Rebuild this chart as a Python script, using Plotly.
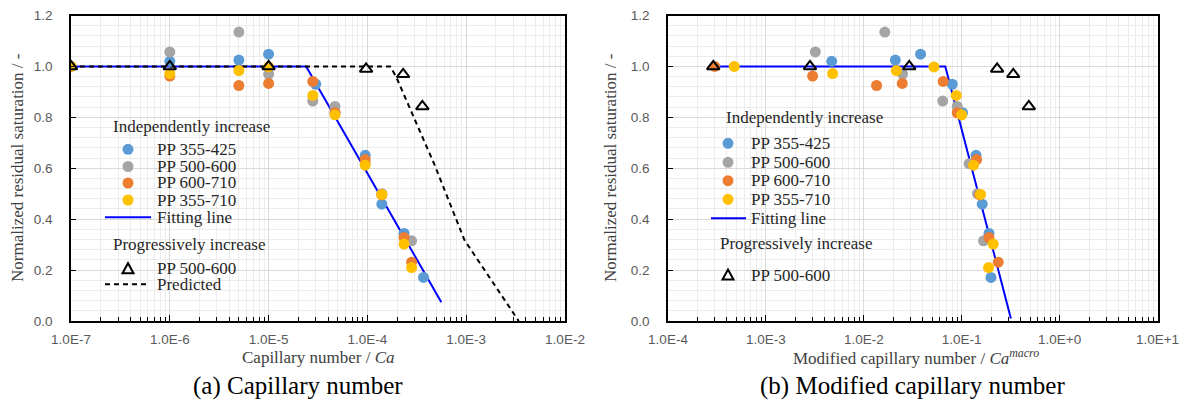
import plotly.graph_objects as go

W, H = 1185, 410

# ---------------- data: panel (a) Capillary number ----------------
ca_blue = [1e-6, 5e-6, 1e-5, 3e-5, 4.7e-5, 9.5e-5, 1.4e-4, 2.35e-4, 3.7e-4]
sr_blue = [1.02, 1.025, 1.048, 0.93, 0.818, 0.651, 0.459, 0.344, 0.171]
ca_grey = [1e-6, 5e-6, 1e-5, 2.8e-5, 4.7e-5, 9.5e-5, 1.4e-4, 2.8e-4]
sr_grey = [1.057, 1.135, 0.97, 0.864, 0.843, 0.618, 0.50, 0.315]
ca_orange = [1e-7, 1e-6, 5e-6, 1e-5, 2.8e-5, 4.7e-5, 9.5e-5, 1.4e-4, 2.35e-4, 2.8e-4]
sr_orange = [1.0, 0.962, 0.925, 0.933, 0.941, 0.818, 0.634, 0.495, 0.328, 0.231]
ca_yellow = [1e-7, 1e-6, 5e-6, 1e-5, 2.8e-5, 4.7e-5, 9.5e-5, 1.4e-4, 2.35e-4, 2.8e-4]
sr_yellow = [1.0, 0.972, 0.984, 0.998, 0.886, 0.81, 0.612, 0.497, 0.302, 0.21]
ca_fit = [1e-7, 2.4e-5, 5.6e-4]
sr_fit = [1.0, 1.0, 0.074]
ca_prog = [1e-7, 1e-6, 1e-5, 9.7e-5, 2.3e-4, 3.6e-4]
sr_prog = [1.0, 1.0, 1.0, 0.99, 0.969, 0.843]
ca_pred = [1e-7, 1.7e-4, 1.95e-4, 4.8e-4, 9.6e-4, 3.4e-3]
sr_pred = [1.0, 1.0, 0.96, 0.612, 0.318, 0.0]

# ---------------- data: panel (b) Modified capillary number ----------------
cam_blue = [4.7e-3, 2.1e-2, 3.8e-2, 8.0e-2, 0.102, 0.14, 0.162, 0.19, 0.199]
cam_grey = [3.2e-3, 1.64e-2, 2.49e-2, 6.4e-2, 9.0e-2, 0.119, 0.145, 0.167]
cam_orange = [3.0e-4, 3.0e-3, 1.35e-2, 2.47e-2, 6.47e-2, 9.0e-2, 0.142, 0.153, 0.19, 0.236]
cam_yellow = [4.75e-4, 4.8e-3, 2.15e-2, 5.2e-2, 8.8e-2, 0.1, 0.132, 0.156, 0.21, 0.188]
cam_fit = [3.0e-4, 6.8e-2, 0.318]
sr_fit_b = [1.0, 1.0, 0.01]
cam_prog = [2.9e-4, 2.82e-3, 2.91e-2, 0.23, 0.336, 0.485]

# ---------------- labels ----------------
series_names = ["PP 355-425", "PP 500-600", "PP 600-710", "PP 355-710"]
series_colors = ["#5B9BD5", "#A5A5A5", "#ED7D31", "#FFC000"]
fit_name = "Fitting line"
prog_name = "PP 500-600"
pred_name = "Predicted"
group1_title = "Independently increase"
group2_title = "Progressively increase"
ytitle = "Normalized residual saturation / -"
xtitle_a = "Capillary number / <i>Ca</i>"
xtitle_b = "Modified capillary number / <i>Ca</i><sup><i>macro</i></sup>"
caption_a = "(a) Capillary number"
caption_b = "(b) Modified capillary number"
xt_a_vals = [1e-7, 1e-6, 1e-5, 1e-4, 1e-3, 1e-2]
xt_a_text = ["1.0E-7", "1.0E-6", "1.0E-5", "1.0E-4", "1.0E-3", "1.0E-2"]
xt_b_vals = [1e-4, 1e-3, 1e-2, 1e-1, 1e0, 1e1]
xt_b_text = ["1.0E-4", "1.0E-3", "1.0E-2", "1.0E-1", "1.0E+0", "1.0E+1"]

SERIF = "Liberation Serif, Times New Roman, serif"
SANS = "Liberation Sans, Arial, sans-serif"

fig = go.Figure()

def add_panel(xs_list, ys_list, xfit, yfit, xprog, yprog, xpred, ypred, xa, ya):
    fig.add_trace(go.Scatter(x=xfit, y=yfit, mode="lines", line=dict(color="#0000FF", width=2),
                             xaxis=xa, yaxis=ya, showlegend=False))
    if xpred is not None:
        fig.add_trace(go.Scatter(x=xpred, y=ypred, mode="lines",
                                 line=dict(color="black", width=2, dash="5px,4px"),
                                 xaxis=xa, yaxis=ya, showlegend=False))
    for xs, ys, c in zip(xs_list, ys_list, series_colors):
        fig.add_trace(go.Scatter(x=xs, y=ys, mode="markers",
                                 marker=dict(color=c, size=11, line=dict(width=0)),
                                 xaxis=xa, yaxis=ya, showlegend=False))
    fig.add_trace(go.Scatter(x=xprog, y=yprog, mode="markers",
                             marker=dict(symbol="triangle-up-open", color="black", size=11,
                                         line=dict(width=2, color="black")),
                             xaxis=xa, yaxis=ya, showlegend=False))

add_panel([ca_blue, ca_grey, ca_orange, ca_yellow], [sr_blue, sr_grey, sr_orange, sr_yellow],
          ca_fit, sr_fit, ca_prog, sr_prog, ca_pred, sr_pred, "x", "y")
add_panel([cam_blue, cam_grey, cam_orange, cam_yellow], [sr_blue, sr_grey, sr_orange, sr_yellow],
          cam_fit, sr_fit_b, cam_prog, sr_prog, None, None, "x2", "y2")


def minor_vals(lo, hi):
    out = []
    for k in range(lo, hi):
        for m in range(2, 10):
            out.append(m * 10.0 ** k)
    return out

def xaxis_cfg(dom, rng, tv, tt, lo, hi, anchor):
    return dict(type="log", domain=dom, range=rng, anchor=anchor, automargin=False,
                tickmode="array", tickvals=tv, ticktext=tt,
                showline=True, linecolor="black", linewidth=1.5, mirror=True,
                ticks="inside", ticklen=6, tickcolor="black", tickwidth=1,
                showgrid=True, gridcolor="#d9d9d9", gridwidth=1, zeroline=False,
                tickfont=dict(family=SANS, size=13.5, color="#595959"),
                ticklabelstandoff=5,
                minor=dict(tickmode="array", tickvals=minor_vals(lo, hi), ticks="inside",
                           ticklen=4, tickcolor="black", showgrid=True,
                           gridcolor="#ececec", gridwidth=1))

def yaxis_cfg(anchor):
    return dict(domain=[1 - 321 / H, 1 - 15.5 / H], range=[0, 1.2], dtick=0.2, tick0=0,
                tickformat=".1f", anchor=anchor, automargin=False,
                showline=True, linecolor="black", linewidth=1.5, mirror=True,
                ticks="inside", ticklen=5, tickcolor="black",
                showgrid=True, gridcolor="#d9d9d9", gridwidth=1, zeroline=False,
                tickfont=dict(family=SANS, size=13.5, color="#595959"),
                ticklabelstandoff=14,
                minor=dict(dtick=0.04, tick0=0, showgrid=True, gridcolor="#ececec", ticks=""))

fig.update_layout(
    width=W, height=H, autosize=False,
    margin=dict(l=0, r=0, t=0, b=0, autoexpand=False),
    paper_bgcolor="white", plot_bgcolor="white",
    showlegend=False,
    xaxis=xaxis_cfg([71 / W, 565 / W], [-7, -2], xt_a_vals, xt_a_text, -7, -2, "y"),
    yaxis=yaxis_cfg("x"),
    xaxis2=xaxis_cfg([668 / W, 1157.5 / W], [-4, 1], xt_b_vals, xt_b_text, -4, 1, "y2"),
    yaxis2=yaxis_cfg("x2"),
)

def P(xp, yp):
    return xp / W, 1 - yp / H

ann = []
shapes = []

def text(xp, yp, s, size=17, color="#262626", xanchor="left", angle=0, family=SERIF):
    x, y = P(xp, yp)
    ann.append(dict(x=x, y=y, xref="paper", yref="paper", text=s, showarrow=False,
                    xanchor=xanchor, yanchor="middle", textangle=angle,
                    font=dict(family=family, size=size, color=color)))

def circle(xp, yp, color, r=5.5):
    x, y = P(xp, yp)
    shapes.append(dict(type="circle", xref="paper", yref="paper", xsizemode="pixel",
                       ysizemode="pixel", xanchor=x, yanchor=y, x0=-r, x1=r, y0=-r, y1=r,
                       fillcolor=color, line=dict(width=0)))

def tri(xp, yp):
    x, y = P(xp, yp)
    shapes.append(dict(type="path", xref="paper", yref="paper", xsizemode="pixel",
                       ysizemode="pixel", xanchor=x, yanchor=y,
                       path="M -5.5,-4.5 L 5.5,-4.5 L 0,5.5 Z",
                       fillcolor="rgba(0,0,0,0)", line=dict(color="black", width=2)))

def hline(x0p, x1p, yp, color, dash="solid"):
    x0, y = P(x0p, yp)
    x1, _ = P(x1p, yp)
    shapes.append(dict(type="line", xref="paper", yref="paper", x0=x0, x1=x1, y0=y, y1=y,
                       line=dict(color=color, width=2, dash=dash)))

# legend (a)
text(111, 126, group1_title)
for i, (nm, c) in enumerate(zip(series_names, series_colors)):
    yy = [149.3, 166.5, 183, 200][i]
    circle(128, yy, c)
    text(155, yy, nm)
hline(105, 151, 217.3, "#0000FF")
text(155, 217.3, fit_name)
text(111, 244, group2_title)
tri(128, 268.7)
text(155, 268.7, prog_name)
hline(105, 148, 284.3, "black", dash="5px,4px")
text(155, 284.3, pred_name)

# legend (b)
text(724, 117.3, group1_title)
for i, (nm, c) in enumerate(zip(series_names, series_colors)):
    yy = [143.3, 162.3, 180.7, 199.3][i]
    circle(728, yy, c)
    text(749, yy, nm)
hline(711, 746, 218.3, "#0000FF")
text(749, 218.3, fit_name)
text(718, 243.3, group2_title)
tri(728, 275)
text(749, 275, prog_name)

# axis titles
text(18, 168, ytitle, color="#404040", xanchor="center", angle=-90)
text(611, 168, ytitle, color="#404040", xanchor="center", angle=-90)
text(318, 357, xtitle_a, color="#404040", xanchor="center")
text(916, 357, xtitle_b, color="#404040", xanchor="center")
# captions
text(298, 386, caption_a, size=25, color="black", xanchor="center")
text(912, 386, caption_b, size=25, color="black", xanchor="center")

fig.update_layout(annotations=ann, shapes=shapes)
fig.write_html("out.html")
